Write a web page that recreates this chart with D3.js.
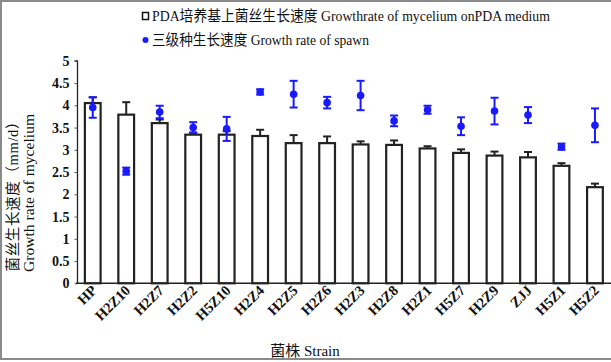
<!DOCTYPE html>
<html><head><meta charset="utf-8">
<script src="https://cdn.jsdelivr.net/npm/d3@7"></script>
<style>body{margin:0;background:#fff}svg{display:block}</style>
</head><body>
<svg id="c" width="611" height="362"></svg>
<script>
const categories = ["HP","H2Z10","H2Z7","H2Z2","H5Z10","H2Z4","H2Z5","H2Z6","H2Z3","H2Z8","H2Z1","H5Z7","H2Z9","ZJJ","H5Z1","H5Z2"];
const myceliumRate = [4.05,3.79,3.60,3.34,3.34,3.31,3.15,3.15,3.12,3.11,3.03,2.93,2.87,2.83,2.64,2.16];
const myceliumErr  = [0.13,0.28,0.08,0.05,0.08,0.14,0.18,0.15,0.07,0.10,0.05,0.08,0.09,0.12,0.06,0.08];
const spawnRate = [3.95,2.52,3.85,3.50,3.47,4.30,4.25,4.06,4.22,3.65,3.90,3.53,3.87,3.78,3.07,3.55];
const spawnErr  = [0.23,0.08,0.14,0.12,0.27,0.06,0.30,0.13,0.33,0.12,0.09,0.20,0.30,0.18,0.07,0.38];
const yTicks = [0,0.5,1,1.5,2,2.5,3,3.5,4,4.5,5];
const legendLabels = ["PDA培养基上菌丝生长速度 Growthrate of mycelium onPDA medium","三级种生长速度 Growth rate of spawn"];
const yTitle = ["菌丝生长速度（mm/d）","Growth rate of mycelium"];
const xTitle = "菌株 Strain";

const svg = d3.select("#c");
const FONT = "'Liberation Serif','Noto Sans CJK SC',serif";
const blue = "#1a1aff";

// frame
svg.append("rect").attr("x",1).attr("y",1).attr("width",612).attr("height",358)
  .attr("fill","none").attr("stroke","#8a8a8a").attr("stroke-width",2);

const x = d3.scaleBand().domain(categories).range([76, 611.7]).padding(0);
const y = d3.scaleLinear().domain([0,5]).range([283.3, 60.8]);

// y axis
const yAxis = d3.axisLeft(y).tickValues(yTicks).tickSize(3).tickPadding(5)
  .tickFormat(d => String(d));
const gy = svg.append("g").attr("transform","translate(77.5,0)").call(yAxis);
gy.select(".domain").attr("stroke","#222").attr("stroke-width",1.3).attr("d","M-3,"+y(5)+"H0V"+y(0));
gy.selectAll(".tick line").attr("stroke","#555");
gy.selectAll("text").attr("font-family",FONT).attr("font-weight","bold").attr("font-size",14).attr("fill","#111");

// bars
const bw = x.bandwidth()*0.47;
const barG = svg.append("g");
barG.selectAll("line.err").data(categories).join("g").each(function(c,i){
  const g = d3.select(this);
  const cx = x(c)+x.bandwidth()/2;
  g.append("line").attr("x1",cx).attr("x2",cx).attr("y1",y(myceliumRate[i])).attr("y2",y(myceliumRate[i]+myceliumErr[i]))
    .attr("stroke","#222").attr("stroke-width",2);
  g.append("line").attr("x1",cx-4).attr("x2",cx+4).attr("y1",y(myceliumRate[i]+myceliumErr[i])).attr("y2",y(myceliumRate[i]+myceliumErr[i]))
    .attr("stroke","#222").attr("stroke-width",2);
});
barG.selectAll("rect").data(categories).join("rect")
  .attr("x",c=>x(c)+x.bandwidth()/2-bw/2).attr("width",bw)
  .attr("y",(c,i)=>y(myceliumRate[i])).attr("height",(c,i)=>y(0)-y(myceliumRate[i]))
  .attr("fill","#fff").attr("stroke","#222").attr("stroke-width",2.2);

// x axis line
svg.append("line").attr("x1",76).attr("x2",611).attr("y1",y(0)).attr("y2",y(0)).attr("stroke","#222").attr("stroke-width",1.5);

// spawn points with error bars
const sg = svg.append("g");
categories.forEach((c,i)=>{
  const cx = x(c)+x.bandwidth()/2;
  const top = y(spawnRate[i]+spawnErr[i]), bot = y(spawnRate[i]-spawnErr[i]);
  sg.append("line").attr("x1",cx).attr("x2",cx).attr("y1",top).attr("y2",bot).attr("stroke",blue).attr("stroke-width",2);
  sg.append("line").attr("x1",cx-4).attr("x2",cx+4).attr("y1",top).attr("y2",top).attr("stroke",blue).attr("stroke-width",2);
  sg.append("line").attr("x1",cx-4).attr("x2",cx+4).attr("y1",bot).attr("y2",bot).attr("stroke",blue).attr("stroke-width",2);
  sg.append("circle").attr("cx",cx).attr("cy",y(spawnRate[i])).attr("r",3.8).attr("fill",blue);
});

// x tick labels
svg.append("g").selectAll("text").data(categories).join("text")
  .attr("transform",c=>`translate(${x(c)+x.bandwidth()/2+5},${y(0)+8}) rotate(-45)`)
  .attr("text-anchor","end").attr("font-family",FONT).attr("font-weight","bold").attr("font-size",14.5).attr("fill","#111")
  .text(c=>c);

// x title
svg.append("text").attr("x",305).attr("y",356).attr("text-anchor","middle")
  .attr("font-family",FONT).attr("font-size",15).attr("fill","#111").text(xTitle);

// y title
const yt = svg.append("g").attr("transform","translate(0,193) rotate(-90)");
yt.append("text").attr("x",0).attr("y",18).attr("text-anchor","middle").attr("font-family",FONT).attr("font-size",14.5).attr("fill","#111")
  .attr("textLength",157).text(yTitle[0]);
yt.append("text").attr("x",0).attr("y",34).attr("text-anchor","middle").attr("font-family",FONT).attr("font-size",15.5).attr("fill","#111")
  .attr("textLength",158).text(yTitle[1]);

// legend
const lg = svg.append("g");
lg.append("rect").attr("x",142.5).attr("y",12.5).attr("width",6).attr("height",7).attr("fill","#fff").attr("stroke","#111").attr("stroke-width",1.5);
lg.append("text").attr("x",152).attr("y",21).attr("font-family",FONT).attr("font-size",15).attr("fill","#111")
  .attr("textLength",398).attr("lengthAdjust","spacingAndGlyphs").text(legendLabels[0]);
lg.append("circle").attr("cx",145.5).attr("cy",40).attr("r",3).attr("fill",blue);
lg.append("text").attr("x",152).attr("y",45).attr("font-family",FONT).attr("font-size",15).attr("fill","#111")
  .attr("textLength",217).attr("lengthAdjust","spacingAndGlyphs").text(legendLabels[1]);
</script>
</body></html>
